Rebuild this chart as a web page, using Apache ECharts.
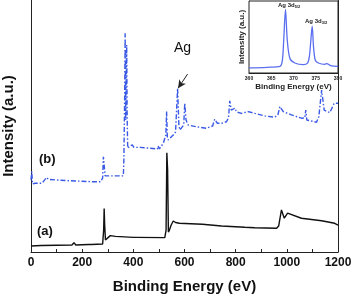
<!DOCTYPE html>
<html><head><meta charset="utf-8">
<script src="https://cdn.jsdelivr.net/npm/echarts@6/dist/echarts.min.js"></script>
<style>html,body{margin:0;padding:0;background:#fff}#c{width:354px;height:297px}</style>
</head><body><div id="c"></div>
<script>
// Binding energy (eV) and intensity (a.u.) for spectrum (a)
const energyA = [0,40,100,160,168,175,225,230,236,280,284,286,288,291,300,310,330,400,405,410,523,528,531,534,537,541,548,556,565,580,670,745,836,875,960,968,979,990,1003,1057,1136,1187,1200];
const intensityA = [2.4,2.6,2.7,2.8,3.7,2.8,3.0,3.5,3.0,3.2,8.7,17.3,10.7,4.8,5.6,6.5,6.2,5.8,6.2,5.8,5.7,8.7,39.4,32.5,7.9,8.7,10.7,12.3,11.7,11.4,11.0,10.3,9.8,9.6,9.4,10.3,16.7,13.4,15.4,13.4,12.4,11.4,10.7];
// spectrum (b)
const energyB = [0,3,6,16,43,55,61,68,94,146,237,273,280,283,286,290,296,361,363,366,368,370,372,374,376,378,387,396,402,426,465,494,497,502,517,527,530,533,536,556,565,573,578,582,597,601,606,614,647,686,710,718,728,745,764,772,777,783,790,797,803,823,849,875,914,953,965,973,986,1018,1057,1070,1074,1078,1116,1125,1136,1146,1168,1185,1200];
const intensityB = [28.6,31.9,27.0,27.3,27.3,28.8,29.6,28.8,28.6,28.3,27.9,27.9,29.4,37.8,34.5,30.2,30.2,30.2,36.5,60.3,86.8,52.4,68.3,82.1,52.4,41.2,42.1,42.5,41.5,41.5,41.2,40.9,42.1,40.9,43.1,46.4,55.7,45.2,44.4,46.4,47.6,65.0,50.4,48.4,50.4,59.0,52.4,50.4,49.7,49.1,50.0,52.7,51.1,51.1,51.7,53.2,60.0,56.3,56.3,57.1,55.6,55.0,55.7,55.0,54.0,53.5,54.4,57.7,55.7,54.4,53.1,53.2,56.3,52.4,51.5,53.7,64.3,56.3,55.3,59.0,59.0];
// inset: Ag 3d region
const energyIn = [360,364,367,367.5,367.8,368.2,368.6,369.2,370.3,372.2,373.2,373.6,373.9,374.2,374.5,374.9,375.6,377,377.5,378.3,380];
const intensityIn = [7.0,7.9,9.3,17.7,45.6,88.4,45.6,20.1,13.9,11.7,14.2,24.7,45.6,65.1,36.3,17.7,13.9,12.1,13.1,10.3,9.3];
const xTicksMain = [0,200,400,600,800,1000,1200];
const xTicksInset = [360,365,370,375,380];
const arrowFrom = [612,70.6], arrowTo = [575,65];

const zip = (a,b)=>a.map((v,i)=>[v,b[i]]);
const F = 'Liberation Sans, Arial, sans-serif';
const chart = echarts.init(document.getElementById('c'), null, {renderer:'canvas'});
chart.setOption({
  animation:false,
  grid:[
    {left:31, right:16, top:0, bottom:45, outerBoundsMode:'none', containLabel:false},
    {left:249, right:16, top:1, bottom:224, show:true, borderColor:'#222', borderWidth:1, backgroundColor:'#fff', z:10, outerBoundsMode:'none', containLabel:false}
  ],
  xAxis:[
    {gridIndex:0, type:'value', min:0, max:1200, interval:200,
     axisLine:{lineStyle:{color:'#222',width:1}},
     axisTick:{inside:true, length:3, lineStyle:{color:'#222'}},
     minorTick:{show:true, splitNumber:2, length:3, lineStyle:{color:'#222'}},
     splitLine:{show:false},
     axisLabel:{margin:5, fontSize:12, fontWeight:'bold', fontFamily:F, color:'#111',
       formatter:v=>xTicksMain.includes(v)?String(v):''},
     name:'Binding Energy (eV)', nameLocation:'middle', nameGap:27,
     nameTextStyle:{fontSize:15, fontWeight:'bold', fontFamily:F, color:'#111'}},
    {gridIndex:1, type:'value', min:360, max:380, interval:5,
     axisLine:{lineStyle:{color:'#222'}},
     axisTick:{inside:true, length:2, lineStyle:{color:'#222'}},
     splitLine:{show:false},
     axisLabel:{margin:3, fontSize:5, fontWeight:'bold', fontFamily:F, color:'#222',
       formatter:v=>xTicksInset.includes(v)?String(v):''},
     name:'Binding Energy (eV)', nameLocation:'middle', nameGap:10,
     nameTextStyle:{fontSize:8, fontWeight:'bold', fontFamily:F, color:'#222'}}
  ],
  yAxis:[
    {gridIndex:0, type:'value', min:0, max:100,
     axisLine:{show:true, lineStyle:{color:'#222'}}, axisTick:{show:false}, axisLabel:{show:false},
     splitLine:{show:false},
     name:'Intensity (a.u.)', nameLocation:'middle', nameGap:15,
     nameTextStyle:{fontSize:15, fontWeight:'bold', fontFamily:F, color:'#111'}},
    {gridIndex:0, type:'value', min:0, max:100, position:'right',
     axisLine:{show:true, lineStyle:{color:'#222'}}, axisTick:{show:false}, axisLabel:{show:false}, splitLine:{show:false}},
    {gridIndex:1, type:'value', min:0, max:100,
     axisLine:{show:true, lineStyle:{color:'#222'}}, axisTick:{show:false}, axisLabel:{show:false},
     splitLine:{show:false},
     name:'Intensity (a.u.)', nameLocation:'middle', nameGap:3,
     nameTextStyle:{fontSize:8, fontWeight:'bold', fontFamily:F, color:'#222'}}
  ],
  series:[
    {type:'line', xAxisIndex:0, yAxisIndex:0, data:zip(energyA,intensityA), symbol:'none',
     lineStyle:{color:'#111', width:1.4}},
    {type:'line', xAxisIndex:0, yAxisIndex:0, data:zip(energyB,intensityB), symbol:'none',
     lineStyle:{color:'#3a5ae6', width:1.4, type:[5,2,1.5,2]},
     markLine:{silent:true, symbol:['none','arrow'], symbolSize:[6,8],
       lineStyle:{color:'#222', width:1, type:'solid'}, label:{show:false},
       data:[[{coord:arrowFrom},{coord:arrowTo}]]}},
    {type:'line', xAxisIndex:1, yAxisIndex:2, data:zip(energyIn,intensityIn), symbol:'none', smooth:0.3, z:12,
     lineStyle:{color:'#5a6ff0', width:1.3}}
  ],
  graphic:[
    {type:'text', left:174, top:41, z:20, style:{text:'Ag', font:'14px '+F, fill:'#111'}},
    {type:'text', left:39, top:153, z:20, style:{text:'(b)', font:'bold 13px '+F, fill:'#111'}},
    {type:'text', left:37, top:225, z:20, style:{text:'(a)', font:'bold 13px '+F, fill:'#111'}},
    {type:'text', left:278, top:2, z:20, style:{rich:{a:{fontSize:6,fontWeight:'bold',fontFamily:F,fill:'#222'},s:{fontSize:4,fontWeight:'bold',fontFamily:F,fill:'#222',padding:[3,0,0,0]}}, text:'{a|Ag 3d}{s|5/2}'}},
    {type:'text', left:305, top:18, z:20, style:{rich:{a:{fontSize:6,fontWeight:'bold',fontFamily:F,fill:'#222'},s:{fontSize:4,fontWeight:'bold',fontFamily:F,fill:'#222',padding:[3,0,0,0]}}, text:'{a|Ag 3d}{s|3/2}'}}
  ]
});
</script></body></html>
